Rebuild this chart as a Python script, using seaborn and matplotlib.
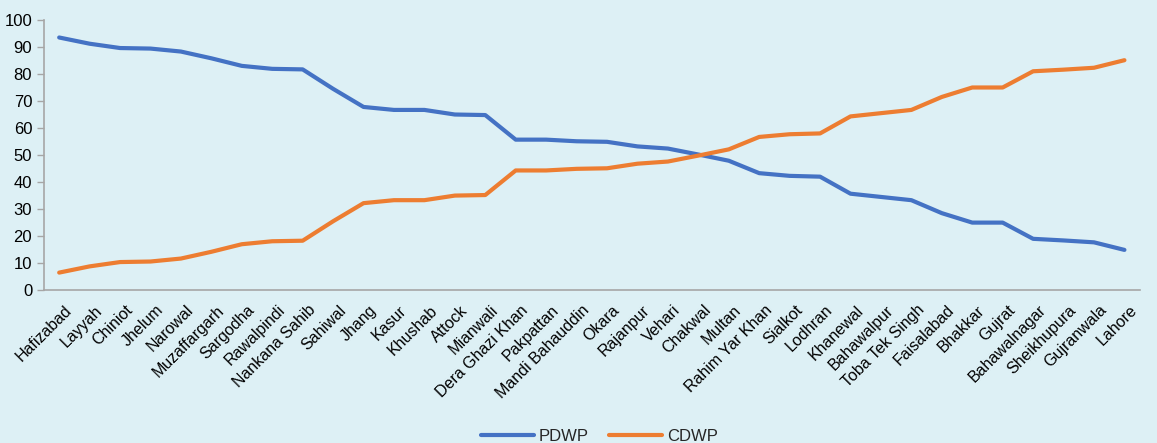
"""PDWP vs CDWP share by district, line chart."""

import matplotlib.pyplot as plt
import matplotlib.transforms as mtransforms
import pandas as pd
import seaborn as sns
from matplotlib.ticker import FixedLocator

districts = [
    "Hafizabad", "Layyah", "Chiniot", "Jhelum", "Narowal", "Muzaffargarh",
    "Sargodha", "Rawalpindi", "Nankana Sahib", "Sahiwal", "Jhang", "Kasur",
    "Khushab", "Attock", "Mianwali", "Dera Ghazi Khan", "Pakpattan",
    "Mandi Bahauddin", "Okara", "Rajanpur", "Vehari", "Chakwal", "Multan",
    "Rahim Yar Khan", "Sialkot", "Lodhran", "Khanewal", "Bahawalpur",
    "Toba Tek Singh", "Faisalabad", "Bhakkar", "Gujrat", "Bahawalnagar",
    "Sheikhupura", "Gujranwala", "Lahore",
]
pdwp = [
    93.5, 91.2, 89.6, 89.4, 88.3, 85.8, 83.0, 81.9, 81.7, 74.5, 67.8, 66.7,
    66.7, 65.0, 64.8, 55.7, 55.7, 55.1, 54.9, 53.2, 52.4, 50.2, 47.9, 43.3,
    42.3, 42.0, 35.7, 34.5, 33.3, 28.5, 25.0, 25.0, 19.0, 18.4, 17.7, 14.9,
]
cdwp = [
    6.5, 8.8, 10.4, 10.6, 11.7, 14.2, 17.0, 18.1, 18.3, 25.5, 32.2, 33.3,
    33.3, 35.0, 35.2, 44.3, 44.3, 44.9, 45.1, 46.8, 47.6, 49.8, 52.1, 56.7,
    57.7, 58.0, 64.3, 65.5, 66.7, 71.5, 75.0, 75.0, 81.0, 81.6, 82.3, 85.1,
]

BG = "#ddf0f5"
AXIS_GREY = "#a6a6a6"

df = pd.DataFrame({
    "district": districts * 2,
    "value": pdwp + cdwp,
    "series": ["PDWP"] * len(districts) + ["CDWP"] * len(districts),
})

sns.set_theme(style="white")
plt.rcParams["font.family"] = ["Liberation Sans Narrow", "Liberation Sans", "DejaVu Sans"]

fig, ax = plt.subplots(figsize=(11.57, 4.43), dpi=100)
fig.patch.set_facecolor(BG)
ax.set_facecolor(BG)

sns.lineplot(
    data=df, x="district", y="value", hue="series",
    palette={"PDWP": "#4472c4", "CDWP": "#ed7d31"},
    linewidth=3, sort=False, ax=ax,
)

n = len(districts)
ax.set_xlim(-0.5, n - 0.5)
ax.set_ylim(0, 100)
ax.set_yticks(range(0, 101, 10))
ax.set_xticks(range(n))
ax.set_xticklabels(districts, rotation=45, ha="right", rotation_mode="anchor")
ax.xaxis.set_minor_locator(FixedLocator([i - 0.5 for i in range(n + 1)]))
ax.tick_params(axis="x", which="major", length=0, pad=6, labelsize=11.5, colors="black")
ax.tick_params(axis="x", which="minor", length=5, width=1, color=AXIS_GREY, direction="out")
ax.tick_params(axis="y", length=5, width=1, color=AXIS_GREY, direction="out",
               labelsize=12, colors="black", left=True)
for lbl in ax.get_yticklabels():
    lbl.set_color("black")

# nudge the rotated labels a little right and down, like the original
shift = mtransforms.ScaledTranslation(5 / 100, -4 / 100, fig.dpi_scale_trans)
for lbl in ax.get_xticklabels():
    lbl.set_transform(lbl.get_transform() + shift)

for side in ("top", "right"):
    ax.spines[side].set_visible(False)
for side in ("left", "bottom"):
    ax.spines[side].set_color(AXIS_GREY)
    ax.spines[side].set_linewidth(1.2)

ax.set_xlabel("")
ax.set_ylabel("")

handles, labels = ax.get_legend_handles_labels()
ax.legend_.remove()
fig.legend(handles, labels, loc="lower center", bbox_to_anchor=(0.518, -0.035),
           ncol=2, frameon=False, fontsize=12, handlelength=3.2,
           columnspacing=1.2, handletextpad=0.3)

fig.subplots_adjust(left=0.038, right=0.985, top=0.955, bottom=0.345)
fig.savefig("out.png", dpi=100, facecolor=BG)
